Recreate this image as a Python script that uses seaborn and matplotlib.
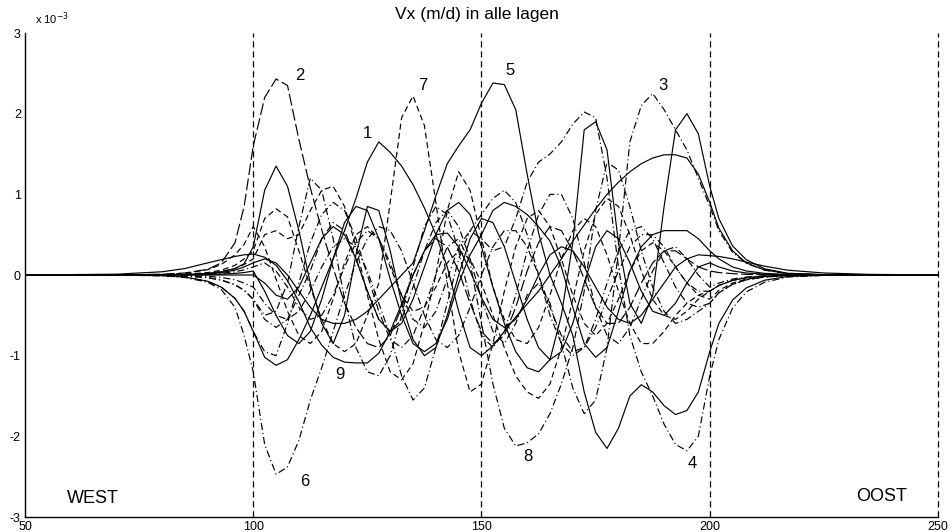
import numpy as np
import pandas as pd
import matplotlib
matplotlib.use("Agg")
import matplotlib.pyplot as plt
import seaborn as sns

x_left = [50, 70, 80, 85, 90, 93, 96, 98]
x_mid = [float(v) for v in np.arange(100, 200.1, 2.5)]
x_right = [202, 205, 208, 212, 217, 225, 235, 250]
x_grid = x_left + x_mid + x_right

# Vx per lijn, in eenheden van 1e-3 m/d
c1 = [0, -0.001, -0.008, -0.025, -0.077, -0.15, -0.29, -0.45,
      -0.7, -1.02, -1.12, -1.05, -0.8, -0.5, -0.15, 0.2, 0.55, 0.95,
      1.4, 1.65, 1.52, 1.35, 1.12, 0.83, 0.5, 0.1, -0.45, -0.9,
      -1.0, -0.88, -0.7, -0.52, -0.36, -0.2, 0.0, 0.2, 0.42, 0.62,
      0.82, 1.0, 1.15, 1.28, 1.38, 1.45, 1.49, 1.49, 1.45, 1.25,
      0.9,
      0.58, 0.3, 0.15, 0.063, 0.018, 0.004, 0, 0]
c2 = [0, 0.001, 0.01, 0.025, 0.07, 0.15, 0.4, 0.85,
      1.6, 2.2, 2.43, 2.35, 1.68, 1.08, 0.56, 0.09, -0.35, -0.65,
      -0.85, -0.9, -0.75, -0.4, 0.0, 0.3, 0.45, 0.35, 0.05, -0.35,
      -0.7, -0.85, -0.75, -0.4, 0.05, 0.4, 0.6, 0.55, 0.3, -0.05,
      -0.4, -0.6, -0.6, -0.4, -0.1, 0.15, 0.3, 0.3, 0.2, 0.1,
      0.05,
      0.03, 0.017, 0.008, 0.003, 0.001, 0, 0, 0]
c3 = [0, 0, -0.004, -0.01, -0.033, -0.063, -0.12, -0.19,
      -0.3, -0.55, -0.65, -0.55, -0.25, 0.05, 0.45, 0.65, 0.55, 0.2,
      -0.2, -0.55, -0.7, -0.55, -0.15, 0.3, 0.65, 0.8, 0.6, 0.2,
      -0.3, -0.7, -0.85, -0.6, -0.25, -0.1, -0.35, -0.85, -1.4, -1.72,
      -1.55, -0.9, 0.3, 1.65, 2.1, 2.25, 2.05, 1.8, 1.55, 1.2,
      0.85,
      0.55, 0.28, 0.145, 0.06, 0.017, 0.003, 0, 0]
c4 = [0, 0, 0.001, 0.004, 0.011, 0.021, 0.04, 0.064,
      0.1, 0.15, 0.05, -0.15, -0.4, -0.55, -0.5, -0.25, 0.1, 0.4,
      0.55, 0.45, 0.15, -0.25, -0.55, -0.65, -0.45, -0.05, 0.35, 0.55,
      0.45, 0.3, 0.35, 0.7, 1.15, 1.4, 1.5, 1.65, 1.87, 2.02,
      1.95, 1.2, 0.1, -0.75, -1.2, -1.5, -1.85, -2.1, -2.18, -2.0,
      -1.25,
      -0.8, -0.41, -0.21, -0.09, -0.025, -0.005, 0, 0]
c5 = [0, 0, 0.002, 0.005, 0.016, 0.03, 0.06, 0.1,
      0.15, 0.2, 0.15, 0.0, -0.2, -0.4, -0.55, -0.6, -0.6, -0.55,
      -0.45, -0.3, -0.15, 0.0, 0.15, 0.55, 0.98, 1.38, 1.6, 1.8,
      2.13, 2.38, 2.36, 2.05, 1.25, 0.52, 0.0, -0.35, -0.75, -1.45,
      -1.95, -2.15, -1.9, -1.5, -1.36, -1.45, -1.62, -1.73, -1.68, -1.45,
      -0.95,
      -0.6, -0.31, -0.16, -0.065, -0.019, -0.004, 0, 0]
c6 = [0, -0.001, -0.01, -0.03, -0.09, -0.18, -0.4, -0.75,
      -1.2, -2.1, -2.47, -2.38, -2.05, -1.55, -1.15, -0.7, -0.25, 0.15,
      0.45, 0.6, 0.55, 0.3, -0.1, -0.5, -0.8, -0.9, -0.75, -0.4,
      0.0, 0.35, 0.55, 0.55, 0.35, 0.0, -0.4, -0.75, -0.95, -0.9,
      -0.65, -0.3, 0.05, 0.35, 0.5, 0.5, 0.35, 0.1, -0.1, -0.2,
      -0.2,
      -0.13, -0.066, -0.034, -0.014, -0.004, -0.001, 0, 0]
c7 = [0, 0, 0.003, 0.01, 0.03, 0.06, 0.12, 0.2,
      0.3, 0.7, 0.82, 0.72, 0.3, -0.15, -0.55, -0.85, -0.95, -0.85,
      -0.5, -0.1, 0.9, 1.95, 2.22, 1.85, 0.9, -0.1, -0.95, -1.45,
      -1.35, -0.85, -0.2, 0.35, 0.7, 0.8, 0.6, 0.2, -0.25, -0.6,
      -0.75, -0.6, -0.3, 0.05, 0.3, 0.4, 0.3, 0.1, -0.1, -0.25,
      -0.3,
      -0.19, -0.1, -0.05, -0.021, -0.006, -0.001, 0, 0]
c8 = [0, -0.001, -0.008, -0.025, -0.077, -0.15, -0.29, -0.45,
      -0.7, -0.95, -1.0, -0.6, -0.1, 0.4, 0.75, 0.9, 0.8, 0.45,
      0.0, -0.45, -0.8, -0.9, -0.75, -0.4, 0.0, 0.35, 0.45, 0.15,
      -0.6, -1.35, -1.9, -2.12, -2.08, -1.97, -1.72, -1.35, -0.9, -0.2,
      0.8, 1.4, 1.3, 0.85, 0.3, -0.15, -0.45, -0.6, -0.55, -0.45,
      -0.35,
      -0.22, -0.115, -0.06, -0.025, -0.007, -0.001, 0, 0]
c9 = [0, 0.01, 0.04, 0.08, 0.15, 0.19, 0.23, 0.25,
      0.26, 0.22, 0.12, -0.07, -0.33, -0.65, -0.87, -1.02, -1.08, -1.09,
      -1.09, -0.97, -0.7, -0.36, 0.0, 0.3, 0.5, 0.52, 0.35, 0.05,
      -0.28, -0.55, -0.65, -0.55, -0.3, 0.0, 0.25, 0.35, 0.3, 0.1,
      -0.15, -0.4, -0.55, -0.6, -0.5, -0.3, -0.1, 0.1, 0.2, 0.25,
      0.24,
      0.23, 0.2, 0.16, 0.11, 0.06, 0.025, 0.008, 0]
c10 = [0, 0, 0.002, 0.006, 0.02, 0.04, 0.08, 0.14,
       0.35, 1.05, 1.35, 1.1, 0.55, -0.1, -0.6, -0.85, -0.5, 0.25,
       0.85, 0.8, 0.3, -0.35, -0.8, -1.0, -0.9, -0.5, 0.0, 0.45,
       0.7, 0.65, 0.35, -0.1, -0.55, -0.9, -1.05, -0.95, -0.6, -0.1,
       0.35, 0.55, 0.45, 0.15, -0.2, -0.45, -0.5, -0.35, -0.1, 0.1,
       0.15,
       0.1, 0.05, 0.025, 0.01, 0.003, 0, 0, 0]
c11 = [0, 0, -0.004, -0.01, -0.033, -0.063, -0.12, -0.19,
       -0.3, -0.5, -0.45, -0.1, 0.6, 1.2, 1.05, 0.45, -0.3, -0.9,
       -1.2, -1.25, -1.0, -0.5, 0.1, 0.6, 0.85, 0.75, 0.3, -0.3,
       -0.75, -0.9, -0.7, -0.25, 0.3, 0.75, 1.0, 1.0, 0.7, 0.15,
       -0.4, -0.75, -0.85, -0.65, -0.3, 0.05, 0.3, 0.35, 0.2, 0.0,
       -0.15,
       -0.1, -0.05, -0.025, -0.01, -0.003, 0, 0, 0]
c12 = [0, 0, 0.002, 0.007, 0.022, 0.042, 0.08, 0.13,
       0.2, 0.5, 0.55, 0.45, 0.5, 0.8, 1.05, 1.1, 0.85, 0.35,
       -0.25, -0.8, -1.2, -1.3, -1.1, -0.6, 0.0, 0.8, 1.28, 1.05,
       0.45, -0.15, -0.55, -0.8, -0.85, -0.65, -0.25, 0.2, 0.55, 0.7,
       0.6, 0.25, -0.2, -0.6, -0.85, -0.85, -0.7, -0.5, -0.35, -0.25,
       -0.2,
       -0.13, -0.066, -0.034, -0.014, -0.004, -0.001, 0, 0]
c13 = [0, 0, 0.001, 0.002, 0.005, 0.01, 0.02, 0.03,
       0.05, -0.2, -0.5, -0.75, -0.85, -0.7, -0.3, 0.2, 0.65, 0.85,
       0.8, 0.45, -0.05, -0.5, -0.85, -0.95, -0.85, -0.55, -0.1, 0.25,
       0.5, 0.8, 0.9, 0.85, 0.75, 0.6, 0.42, 0.1, -0.4, -0.85,
       -1.02, -0.9, -0.45, 0.05, 0.35, 0.5, 0.55, 0.55, 0.55, 0.45,
       0.3,
       0.2, 0.1, 0.05, 0.02, 0.006, 0.001, 0, 0]
c14 = [0, 0, 0, 0, 0, 0, 0, 0,
       0.0, -0.1, -0.25, -0.3, -0.15, 0.15, 0.45, 0.6, 0.5, 0.2,
       -0.2, -0.55, -0.7, -0.6, -0.3, 0.1, 0.5, 0.8, 0.9, 0.75,
       0.35, -0.15, -0.6, -0.95, -1.15, -1.2, -1.05, -0.5, 0.4, 1.8,
       1.9, 1.55, 0.4, -0.35, -0.6, -0.25, 0.85, 1.8, 2.0, 1.75,
       1.1,
       0.7, 0.36, 0.19, 0.077, 0.022, 0.004, 0, 0]
c15 = [0, 0, -0.002, -0.005, -0.016, -0.03, -0.06, -0.1,
       -0.15, -0.35, -0.5, -0.55, -0.45, -0.2, 0.1, 0.35, 0.45, 0.35,
       0.05, -0.35, -0.75, -1.25, -1.55, -1.4, -0.9, -0.35, 0.2, 0.55,
       0.75, 0.95, 1.05, 0.9, 0.5, 0.0, -0.5, -0.85, -1.0, -0.9,
       -0.55, -0.1, 0.3, 0.55, 0.6, 0.45, 0.15, -0.15, -0.35, -0.4,
       -0.35,
       -0.22, -0.115, -0.06, -0.025, -0.007, -0.001, 0, 0]
c16 = [0, 0.001, 0.007, 0.02, 0.066, 0.13, 0.25, 0.38,
       0.6, 0.35, -0.05, -0.45, -0.75, -0.85, -0.7, -0.3, 0.15, 0.5,
       0.6, 0.45, 0.1, -0.25, -0.45, -0.4, -0.15, 0.15, 0.3, 0.2,
       -0.1, -0.5, -0.9, -1.25, -1.45, -1.53, -1.35, -0.9, -0.3, 0.3,
       0.75, 0.95, 0.85, 0.5, 0.05, -0.3, -0.5, -0.55, -0.45, -0.3,
       -0.2,
       -0.13, -0.066, -0.034, -0.014, -0.004, -0.001, 0, 0]

curves = {"c1": c1, "c2": c2, "c3": c3, "c4": c4, "c5": c5, "c6": c6,
          "c7": c7, "c8": c8, "c9": c9, "c10": c10, "c11": c11, "c12": c12,
          "c13": c13, "c14": c14, "c15": c15, "c16": c16}

# lijnstijlen zoals in de matlab-plot
solid = ""
dashed = (5, 3)
dashdot = (6, 2.5, 1, 2.5)
longdash = (10, 3)
dash_map = {"c1": solid, "c2": longdash, "c3": dashdot, "c4": dashdot,
            "c5": solid, "c6": dashdot, "c7": dashed, "c8": dashdot,
            "c9": solid, "c10": solid, "c11": dashdot, "c12": dashed,
            "c13": solid, "c14": solid, "c15": dashdot, "c16": dashed}

# laagnummers bij de lijnen
layer_labels = ["1", "2", "3", "4", "5", "6", "7", "8", "9"]
label_pos = [(125.1, 1.75), (110.2, 2.47), (189.8, 2.35), (196.1, -2.34),
             (156.2, 2.53), (111.3, -2.56), (137.2, 2.35), (160.2, -2.25),
             (119.0, -1.23)]

rows = []
for name, vals in curves.items():
    for xv, yv in zip(x_grid, vals):
        rows.append((name, xv, yv * 1e-3))
df = pd.DataFrame(rows, columns=["laag", "x", "vx"])

sns.set_style("white")
plt.rcParams["font.family"] = ["Liberation Sans", "DejaVu Sans"]
plt.rcParams["text.color"] = "black"
plt.rcParams["xtick.color"] = "black"
plt.rcParams["ytick.color"] = "black"

fig = plt.figure(figsize=(9.53, 5.32), dpi=100)
ax = fig.add_axes([25 / 953, 15 / 532, 913 / 953, 484 / 532])

sns.lineplot(data=df, x="x", y="vx", style="laag", dashes=dash_map,
             color="black", linewidth=0.85, estimator=None, sort=False,
             legend=False, ax=ax)

for xv in [100, 150, 200, 250]:
    ax.axvline(xv, color="black", linewidth=0.9, linestyle=(0, (5, 3)),
               clip_on=False)

ax.set_xlim(50, 250)
ax.set_ylim(-3e-3, 3e-3)
ax.set_xticks([50, 100, 150, 200, 250])
ax.set_yticks([v * 1e-3 for v in range(-3, 4)])
ax.set_yticklabels([str(v) for v in range(-3, 4)])
ax.set_xlabel("")
ax.set_ylabel("")
ax.tick_params(direction="in", length=4, width=0.8, labelsize=9, pad=3,
               colors="black")
for side in ["top", "right"]:
    ax.spines[side].set_visible(False)
for side in ["left", "bottom"]:
    ax.spines[side].set_color("black")
    ax.spines[side].set_linewidth(1.0)

for lab, (lx, ly) in zip(layer_labels, label_pos):
    ax.text(lx, ly * 1e-3, lab, fontsize=12, ha="center", va="center")
ax.text(64.9, -2.77e-3, "WEST", fontsize=13, ha="center", va="center")
ax.text(237.7, -2.75e-3, "OOST", fontsize=13, ha="center", va="center")

fig.text(477 / 953, 1 - 15 / 532, "Vx (m/d) in alle lagen", fontsize=12.5,
         ha="center", va="center")
fig.text(35 / 953, 1 - 19 / 532, r"x 10$^{-3}$", fontsize=8,
         ha="left", va="center")

fig.savefig("out.png", dpi=100)
